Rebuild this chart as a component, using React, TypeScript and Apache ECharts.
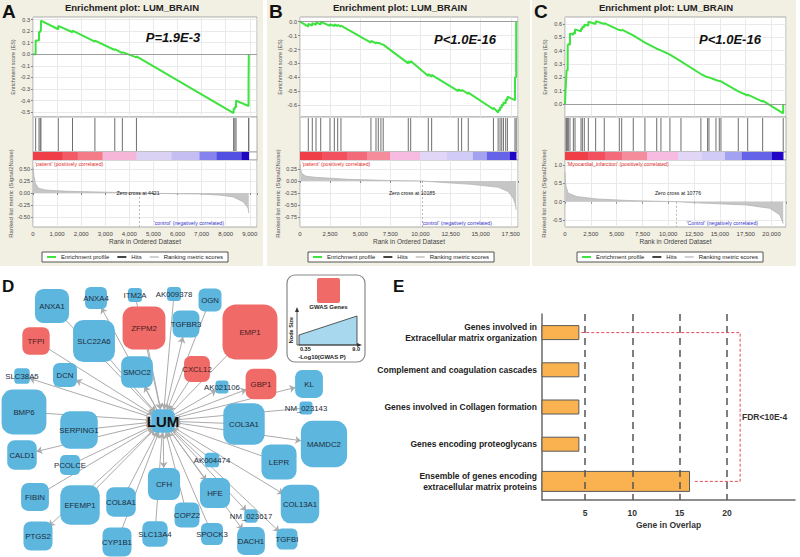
import React, { useEffect, useRef } from 'react';
import * as echarts from 'echarts';

const FONT = '"Liberation Sans", Arial, Helvetica, sans-serif';

// ---------------- Panel A (GSEA) ----------------
const esRankA = [0, 109, 110, 249, 250, 299, 300, 329, 330, 1049, 1050, 1639, 1640, 2569, 2570, 3394, 3395, 3709, 3710, 4294, 4295, 8329, 8330, 8379, 8380, 8429, 8430, 8949, 8950, 8959, 8960];
const esValueA = [0, 0, 0.12, 0.118, 0.195, 0.19, 0.205, 0.2, 0.29, 0.216, 0.245, 0.19, 0.205, 0.11, 0.118, 0.037, 0.045, 0.01, 0.018, -0.027, -0.018, -0.508, -0.468, -0.475, -0.452, -0.46, -0.4, -0.447, -0.23, -0.232, 0];
const hitsA = [110, 250, 300, 330, 1050, 1640, 2570, 3395, 3710, 4295, 8330, 8380, 8430, 8950, 8960];
const metricRankA = [0, 40, 100, 230, 500, 830, 1500, 2770, 4421, 6000, 6900, 7800, 8300, 8720, 8930, 8960];
const metricValueA = [0.55, 0.35, 0.2, 0.1, 0.065, 0.05, 0.035, 0.02, 0, -0.015, -0.02, -0.045, -0.08, -0.18, -0.31, -0.42];
const colorEdgesA = [0, 1230, 1855, 2890, 4300, 5750, 6910, 7620, 8660, 8960];
const colorBandsA = ['#f03e48', '#f25a66', '#f47c88', '#f6b6d8', '#dad2f4', '#c4bef2', '#8683ee', '#5250e2', '#1f06c0'];
const esTicksA = [-0.5, -0.4, -0.3, -0.2, -0.1, 0, 0.1, 0.2, 0.3];
const metricTicksA = [-0.5, -0.25, 0, 0.25, 0.5];
const zeroCrossA = 4421;
const pTextA = 'P=1.9E-3';
const posLabelA = "'patient' (positively correlated)";
const negLabelA = "'control' (negatively correlated)";

// ---------------- Panel B (GSEA) ----------------
const esRankB = [0, 689, 690, 1019, 1020, 1329, 1330, 1719, 1720, 2489, 2490, 2849, 2850, 3129, 3130, 3399, 3400, 5889, 5890, 6309, 6310, 6499, 6500, 6719, 6720, 6909, 6910, 8989, 8990, 9189, 9190, 10649, 10650, 10929, 10930, 13139, 13140, 13419, 13420, 13969, 13970, 16059, 16060, 16449, 16450, 16609, 16610, 16749, 16750, 16889, 16890, 17079, 17080, 17219, 17220, 17849, 17850, 17949, 17950];
const esValueB = [0, -0.035, -0.015, -0.028, -0.01, -0.022, -0.005, -0.02, 0, -0.03, -0.018, -0.032, -0.02, -0.031, -0.022, -0.035, -0.028, -0.15, -0.138, -0.155, -0.148, -0.156, -0.15, -0.16, -0.155, -0.165, -0.16, -0.3, -0.285, -0.295, -0.282, -0.39, -0.377, -0.395, -0.382, -0.5, -0.487, -0.5, -0.49, -0.52, -0.51, -0.63, -0.618, -0.655, -0.635, -0.64, -0.615, -0.62, -0.597, -0.603, -0.58, -0.588, -0.56, -0.565, -0.54, -0.565, -0.4, -0.402, 0];
const hitsB = [690, 1020, 1330, 1720, 2490, 2850, 3130, 3400, 5890, 6310, 6500, 6720, 6910, 8990, 9190, 10650, 10930, 13140, 13420, 13970, 16060, 16450, 16610, 16750, 16890, 17080, 17220, 17850, 17950];
const metricRankB = [0, 50, 140, 500, 1240, 4000, 7470, 10185, 10920, 14240, 16460, 17290, 17700, 17900, 17950];
const metricValueB = [0.35, 0.25, 0.16, 0.1, 0.077, 0.035, 0.01, 0, -0.014, -0.07, -0.13, -0.22, -0.36, -0.5, -0.6];
const colorEdgesB = [0, 1830, 3900, 5560, 7470, 9960, 12200, 14360, 15520, 17430, 17950];
const colorBandsB = ['#f03e48', '#f2505e', '#f36a7a', '#f58c9b', '#f7bae0', '#e2d6f6', '#d0ccf7', '#a3a2f1', '#6563e8', '#2106c6'];
const esTicksB = [-0.6, -0.5, -0.4, -0.3, -0.2, -0.1, 0];
const metricTicksB = [-0.75, -0.5, -0.25, 0, 0.25];
const zeroCrossB = 10185;
const pTextB = 'P<1.0E-16';
const posLabelB = "'patient' (positively correlated)";
const negLabelB = "'control' (negatively correlated)";

// ---------------- Panel C (GSEA) ----------------
const esRankC = [0, 100, 159, 160, 259, 260, 319, 320, 479, 480, 809, 810, 969, 970, 1549, 1550, 1679, 1680, 1869, 1870, 2259, 2260, 2969, 2970, 3799, 3800, 5259, 5260, 5489, 5490, 6609, 6610, 7739, 7740, 8879, 8880, 9289, 9290, 10159, 10160, 11229, 11230, 13159, 13160, 13809, 13810, 13939, 13940, 14619, 14620, 14939, 14940, 15099, 15100, 16779, 16780, 17689, 17690, 19139, 19140, 21129, 21130];
const esValueC = [0, 0.18, 0.178, 0.255, 0.252, 0.44, 0.438, 0.45, 0.445, 0.53, 0.52, 0.535, 0.53, 0.56, 0.545, 0.565, 0.562, 0.58, 0.577, 0.595, 0.59, 0.617, 0.6, 0.622, 0.6, 0.607, 0.555, 0.56, 0.552, 0.558, 0.515, 0.52, 0.46, 0.465, 0.415, 0.42, 0.403, 0.408, 0.37, 0.375, 0.32, 0.324, 0.225, 0.23, 0.2, 0.205, 0.2, 0.205, 0.18, 0.185, 0.172, 0.177, 0.17, 0.175, 0.095, 0.1, 0.064, 0.07, 0.018, 0.025, -0.07, 0];
const hitsC = [100, 160, 260, 320, 480, 810, 970, 1550, 1680, 1870, 2260, 2970, 3800, 5260, 5490, 6610, 7740, 8880, 9290, 10160, 11230, 13160, 13810, 13940, 14620, 14940, 15100, 16780, 17690, 19140, 21130];
const metricRankC = [0, 30, 100, 320, 1130, 3060, 6290, 10776, 12740, 17580, 19840, 20800, 21130];
const metricValueC = [0.8, 0.6, 0.41, 0.23, 0.14, 0.075, 0.03, 0, -0.03, -0.09, -0.18, -0.36, -0.6];
const colorEdgesC = [0, 2230, 3870, 5520, 7940, 10940, 13260, 15490, 17130, 20040, 21130];
const colorBandsC = ['#f03e48', '#f2505e', '#f36a7a', '#f58c9b', '#f7bae0', '#e2d6f6', '#d0ccf7', '#a3a2f1', '#6563e8', '#2106c6'];
const esTicksC = [0, 0.1, 0.2, 0.3, 0.4, 0.5, 0.6];
const metricTicksC = [-0.5, 0, 0.5, 1.0];
const zeroCrossC = 10776;
const pTextC = 'P<1.0E-16';
const posLabelC = "'Myocardial_infarction' (positively correlated)";
const negLabelC = "'Control' (negatively correlated)";

const panelTitle = 'Enrichment plot: LUM_BRAIN';
const legendNames = ['Enrichment profile', 'Hits', 'Ranking metric scores'];

// ---------------- Panel D (network) ----------------
const geneNames = ['LUM', 'ANXA1', 'ANXA4', 'ITM2A', 'AK009378', 'OGN', 'ZFPM2', 'TGFBR3', 'EMP1', 'TFPI', 'SLC22A6', 'SMOC2', 'CXCL12', 'GBP1', 'AK021106', 'SLC38A5', 'DCN', 'BMP6', 'SERPING1', 'COL3A1', 'KL', 'NM_023143', 'MAMDC2', 'CALD1', 'PCOLCE', 'AK004474', 'LEPR', 'CFH', 'FIBIN', 'EFEMP1', 'COL8A1', 'HFE', 'COPZ2', 'NM_023617', 'COL13A1', 'PTGS2', 'CYP1B1', 'SLC13A4', 'SPOCK3', 'DACH1', 'TGFBI'];
const gwasLog10P = [2.5, 4.7, 2.2, 0.56, 0.56, 2.4, 6.5, 3.2, 9.0, 3.3, 6.3, 4.2, 3.0, 4.0, 0.35, 0.87, 2.6, 6.9, 5.4, 6.2, 3.4, 0.35, 7.2, 3.75, 1.8, 0.66, 4.9, 4.3, 3.4, 5.8, 3.75, 3.85, 2.8, 0.45, 5.6, 3.65, 3.65, 2.9, 2.2, 3.4, 2.0];
const gwasGenes = ['ZFPM2', 'EMP1', 'TFPI', 'CXCL12', 'GBP1'];
const targetsOfLUM = ['ANXA4', 'TGFBR3', 'EMP1', 'GBP1', 'AK021106', 'SLC38A5', 'CALD1', 'PTGS2', 'MAMDC2', 'COL13A1', 'TGFBI', 'CFH', 'SMOC2', 'DACH1', 'KL', 'HFE', 'NM_023617', 'DCN'];
// network layout (node centres)
const layoutX = [163, 52, 96, 135, 174, 210, 144, 186, 250, 36, 94, 137, 197, 261, 222, 22, 65, 24, 79, 244, 309, 306, 324, 22, 70, 212, 279, 164, 35, 80, 121, 215, 187, 251, 300, 38, 117, 155, 212, 251, 287];
const layoutY = [421, 306, 298, 295, 294, 300, 328, 324, 332, 341, 341, 372, 369, 384, 387, 376, 375, 412, 430, 424, 384, 408, 444, 455, 465, 460, 462, 484, 497, 505, 502, 493, 515, 516, 504, 536, 542, 534, 534, 541, 539];
const sizeLegendRange = [0.35, 9.0];

// ---------------- Panel E (bars) ----------------
const pathwayNames = [
  'Genes involved in\nExtracellular matrix organization',
  'Complement and coagulation cascades',
  'Genes involved in Collagen formation',
  'Genes encoding proteoglycans',
  'Ensemble of genes encoding\nextracellular matrix proteins',
];
const geneOverlap = [4.4, 4.4, 4.4, 4.4, 16.1];
const overlapTicks = [5, 10, 15, 20];
const fdrBracketX = [4.6, 21.4, 21.4, 16.6];
const fdrText = 'FDR<10E-4';

function buildOption() {
  const panels = [
    { letter: 'A', esRank: esRankA, esValue: esValueA, hits: hitsA, mRank: metricRankA, mValue: metricValueA, edges: colorEdgesA, bands: colorBandsA, esTicks: esTicksA, mTicks: metricTicksA, zc: zeroCrossA, pText: pTextA, pos: posLabelA, neg: negLabelA,
      left: 33, width: 224, xMax: 9300, xInterval: 1000, esMin: -0.542, esMax: 0.322, mMin: -0.708, mMax: 0.6875, mDigits: 2, bgX: 0, bgW: 263, titleX: 132, pX: 173, pY: 37, zeroX: 138, negRight: 224, legendLeft: 42 },
    { letter: 'B', esRank: esRankB, esValue: esValueB, hits: hitsB, mRank: metricRankB, mValue: metricValueB, edges: colorEdgesB, bands: colorBandsB, esTicks: esTicksB, mTicks: metricTicksB, zc: zeroCrossB, pText: pTextB, pos: posLabelB, neg: negLabelB,
      left: 300, width: 218, xMax: 18100, xInterval: 2500, esMin: -0.686, esMax: 0.034, mMin: -0.958, mMax: 0.4375, mDigits: 2, bgX: 267, bgW: 263, titleX: 400, pX: 465, pY: 39, zeroX: 412, negRight: 492, legendLeft: 308 },
    { letter: 'C', esRank: esRankC, esValue: esValueC, hits: hitsC, mRank: metricRankC, mValue: metricValueC, edges: colorEdgesC, bands: colorBandsC, esTicks: esTicksC, mTicks: metricTicksC, zc: zeroCrossC, pText: pTextC, pos: posLabelC, neg: negLabelC,
      left: 565, width: 221, xMax: 21400, xInterval: 2500, esMin: -0.0975, esMax: 0.653, mMin: -0.691, mMax: 1.139, mDigits: 1, bgX: 532, bgW: 264, titleX: 666, pX: 730, pY: 39, zeroX: 678, negRight: 758, legendLeft: 577 },
  ];

  const grids: any[] = [];
  const xAxes: any[] = [];
  const yAxes: any[] = [];
  const series: any[] = [];
  const graphics: any[] = [];
  const legends: any[] = [];

  const gridLine = { show: true, lineStyle: { color: '#e4e4e4', width: 0.8 } };
  const tickLabel = { fontSize: 5.5, color: '#444', fontFamily: FONT };

  panels.forEach((p, k) => {
    const g0 = k * 4;
    const rows = [
      { top: 17, height: 100 },
      { top: 117, height: 35 },
      { top: 152, height: 8 },
      { top: 160, height: 67 },
    ];
    rows.forEach((r) => {
      grids.push({ left: p.left, width: p.width, top: r.top, height: r.height, show: true, backgroundColor: '#fff', borderColor: '#9a9a9a', borderWidth: 0.8, containLabel: false, outerBoundsMode: 'none' });
    });
    const fmtX = (v: number) => (v % p.xInterval === 0 && v <= p.xMax ? v.toLocaleString('en-US') : '');
    // ES
    xAxes.push({ gridIndex: g0, type: 'value', min: 0, max: p.xMax, interval: p.xInterval, axisLabel: { show: false }, axisTick: { show: false }, axisLine: { show: false }, splitLine: gridLine });
    yAxes.push({ gridIndex: g0, type: 'value', min: p.esMin, max: p.esMax, axisLine: { show: false },
      axisTick: { show: true, length: 2, lineStyle: { color: '#888' }, customValues: p.esTicks },
      axisLabel: { ...tickLabel, margin: 3, customValues: p.esTicks, formatter: (v: number) => v.toFixed(1) },
      splitLine: gridLine, name: 'Enrichment score (ES)', nameLocation: 'middle', nameGap: 17, nameTextStyle: { fontSize: 5.5, color: '#555', fontFamily: FONT } });
    // hits
    xAxes.push({ gridIndex: g0 + 1, type: 'value', min: 0, max: p.xMax, show: false });
    yAxes.push({ gridIndex: g0 + 1, type: 'value', min: 0, max: 1, show: false });
    // colour bar
    xAxes.push({ gridIndex: g0 + 2, type: 'value', min: 0, max: p.xMax, show: false });
    yAxes.push({ gridIndex: g0 + 2, type: 'value', min: 0, max: 1, show: false });
    // ranked metric
    xAxes.push({ gridIndex: g0 + 3, type: 'value', min: 0, max: p.xMax, interval: p.xInterval, axisLine: { show: false },
      axisTick: { show: true, length: 2, lineStyle: { color: '#888' } },
      axisLabel: { fontSize: 6, color: '#444', margin: 4, formatter: fmtX, fontFamily: FONT }, splitLine: gridLine,
      name: 'Rank in Ordered Dataset', nameLocation: 'middle', nameGap: 11, nameTextStyle: { fontSize: 6.5, color: '#444', fontFamily: FONT } });
    yAxes.push({ gridIndex: g0 + 3, type: 'value', min: p.mMin, max: p.mMax, axisLine: { show: false },
      axisTick: { show: true, length: 2, lineStyle: { color: '#888' }, customValues: p.mTicks },
      axisLabel: { ...tickLabel, margin: 3, customValues: p.mTicks, formatter: (v: number) => v.toFixed(p.mDigits) },
      splitLine: gridLine, name: 'Ranked list metric (Signal2Noise)', nameLocation: 'middle', nameGap: 18, nameTextStyle: { fontSize: 6, color: '#555', fontFamily: FONT } });

    series.push({
      type: 'line', name: 'Enrichment profile', xAxisIndex: g0, yAxisIndex: g0, color: '#3fe33f',
      data: p.esRank.map((r, i) => [r, p.esValue[i]]), showSymbol: false, lineStyle: { width: 2, color: '#3fe33f' }, z: 4,
      markLine: { silent: true, symbol: 'none', label: { show: false }, lineStyle: { color: '#8a8a8a', width: 0.8, type: 'solid' }, data: [{ yAxis: 0 }] },
    });
    series.push({
      type: 'custom', name: 'Hits', xAxisIndex: g0 + 1, yAxisIndex: g0 + 1, itemStyle: { color: '#444' },
      dimensions: ['rank'], encode: { x: 'rank' }, data: p.hits.map((h) => [h]),
      renderItem: (params: any, api: any) => {
        const x = api.coord([api.value(0), 0])[0];
        const cs = params.coordSys;
        return { type: 'line', shape: { x1: x, y1: cs.y + 1, x2: x, y2: cs.y + cs.height - 1 }, style: { stroke: '#6e6e6e', lineWidth: 1 } };
      },
    });
    const bands = p.bands;
    series.push({
      type: 'custom', xAxisIndex: g0 + 2, yAxisIndex: g0 + 2,
      dimensions: ['start', 'end'], encode: { x: ['start', 'end'] },
      data: p.edges.slice(0, -1).map((e, i) => [e, p.edges[i + 1]]),
      renderItem: (params: any, api: any) => {
        const x0 = api.coord([api.value(0), 0])[0];
        const x1 = api.coord([api.value(1), 0])[0];
        const cs = params.coordSys;
        return { type: 'rect', shape: { x: x0, y: cs.y, width: x1 - x0 + 0.3, height: cs.height }, style: { fill: bands[params.dataIndex] } };
      },
    });
    series.push({
      type: 'line', name: 'Ranking metric scores', xAxisIndex: g0 + 3, yAxisIndex: g0 + 3, color: '#d0d0d0',
      data: p.mRank.map((r, i) => [r, p.mValue[i]]), showSymbol: false,
      lineStyle: { width: 0.8, color: '#b5b5b5' }, areaStyle: { color: '#c6c6c6', opacity: 1 },
      markLine: { silent: true, symbol: 'none', label: { show: false }, lineStyle: { color: '#8c8c8c', width: 0.6, type: [2, 2] },
        data: [[{ coord: [p.zc, 0] }, { coord: [p.zc, p.mMin] }]] },
    });

    legends.push({ left: p.legendLeft, top: 252, orient: 'horizontal', data: legendNames, icon: 'rect', itemWidth: 9, itemHeight: 2, itemGap: 8,
      padding: [2, 5], borderColor: '#555', borderWidth: 1, backgroundColor: '#fff', selectedMode: false,
      textStyle: { fontSize: 6, color: '#222', fontFamily: FONT } });

    graphics.push({ type: 'rect', z: -10, silent: true, shape: { x: p.bgX, y: 0, width: p.bgW, height: 266 }, style: { fill: '#f2efe3' } });
    graphics.push({ type: 'text', z: 100, x: p.bgX + 2, y: 2, style: { text: p.letter, fontSize: 19, fontWeight: 'bold', fill: '#111', fontFamily: FONT } });
    graphics.push({ type: 'text', z: 100, x: p.titleX, y: 7.5, style: { text: panelTitle, fontSize: 9.5, fontWeight: 'bold', fill: '#222', fontFamily: FONT, align: 'center', verticalAlign: 'middle' } });
    graphics.push({ type: 'text', z: 100, x: p.pX, y: p.pY, style: { text: p.pText, fontSize: 13, fontWeight: 'bold', fontStyle: 'italic', fill: '#111', fontFamily: FONT, align: 'center', verticalAlign: 'middle' } });
    graphics.push({ type: 'text', z: 100, x: p.left + 2, y: 164, style: { text: p.pos, fontSize: 5.2, fill: '#e0302e', fontFamily: FONT, align: 'left', verticalAlign: 'middle' } });
    graphics.push({ type: 'text', z: 100, x: p.zeroX, y: 193, style: { text: 'Zero cross at ' + p.zc, fontSize: 5.2, fill: '#222', fontFamily: FONT, align: 'center', verticalAlign: 'middle' } });
    graphics.push({ type: 'text', z: 100, x: p.negRight, y: 222.5, style: { text: p.neg, fontSize: 5.2, fill: '#3434cc', fontFamily: FONT, align: 'right', verticalAlign: 'middle' } });
  });

  // ---------- Panel E ----------
  const gE = 12;
  grids.push({ left: 542, top: 314, width: 253, height: 186, show: false, containLabel: false, outerBoundsMode: 'none' });
  xAxes.push({ gridIndex: gE, type: 'value', min: 0.45, max: 27.2,
    axisLine: { show: true, lineStyle: { color: '#6a6a6a', width: 1.5 } }, axisTick: { show: false, customValues: overlapTicks }, splitLine: { show: false },
    axisLabel: { customValues: overlapTicks, fontSize: 8.5, fontWeight: 'bold', color: '#333', margin: 8, fontFamily: FONT },
    name: 'Gene in Overlap', nameLocation: 'middle', nameGap: 20, nameTextStyle: { fontSize: 8.5, fontWeight: 'bold', color: '#333', fontFamily: FONT } });
  yAxes.push({ gridIndex: gE, type: 'category', inverse: true, data: pathwayNames,
    axisLine: { show: true, lineStyle: { color: '#6a6a6a', width: 1.5 } }, axisTick: { show: false },
    axisLabel: { interval: 0, fontSize: 8.5, fontWeight: 'bold', color: '#222', lineHeight: 11.5, margin: 5, align: 'right', fontFamily: FONT } });
  yAxes.push({ gridIndex: gE, type: 'category', inverse: true, data: pathwayNames, show: false });
  const barStyle = { color: '#f9b24f', borderColor: '#5a5a5a', borderWidth: 1 };
  series.push({
    type: 'bar', xAxisIndex: gE, yAxisIndex: 12, barWidth: 15, itemStyle: barStyle, silent: true,
    data: geneOverlap.map((v, i) => (i < 4 ? v : '-')),
  });
  series.push({
    type: 'bar', xAxisIndex: gE, yAxisIndex: 13, barWidth: 21, itemStyle: barStyle, silent: true,
    data: geneOverlap.map((v, i) => (i === 4 ? v : '-')),
    markLine: { silent: true, symbol: 'none', label: { show: false }, lineStyle: { color: '#555', width: 1.5, type: [7, 5] },
      data: overlapTicks.map((v) => ({ xAxis: v })) },
  });
  // FDR bracket joining the first and last pathways
  const bracketCats = [pathwayNames[0], pathwayNames[0], pathwayNames[4], pathwayNames[4]];
  series.push({
    type: 'line', xAxisIndex: gE, yAxisIndex: 12, silent: true, showSymbol: false, symbol: 'none', z: 6,
    data: fdrBracketX.map((x, i) => [x, bracketCats[i]]),
    lineStyle: { color: '#e8485a', width: 1, type: [3, 2] },
  });
  graphics.push({ type: 'text', z: 100, x: 742, y: 417, style: { text: fdrText, fontSize: 8.5, fontWeight: 'bold', fill: '#333', fontFamily: FONT, align: 'left', verticalAlign: 'middle' } });
  graphics.push({ type: 'text', z: 100, x: 393, y: 278, style: { text: 'E', fontSize: 17, fontWeight: 'bold', fill: '#111', fontFamily: FONT } });

  // ---------- Panel D ----------
  const minX = Math.min(...layoutX), maxX = Math.max(...layoutX);
  const minY = Math.min(...layoutY), maxY = Math.max(...layoutY);
  const nodeSize = (v: number) => 13 + ((v - sizeLegendRange[0]) / (sizeLegendRange[1] - sizeLegendRange[0])) * 42;
  series.push({
    type: 'graph', layout: 'none', left: minX, top: minY, width: maxX - minX, height: maxY - minY, roam: false, silent: true, z: 3,
    symbol: 'roundRect',
    data: geneNames.map((n, i) => ({
      name: n, x: layoutX[i], y: layoutY[i], symbolSize: nodeSize(gwasLog10P[i]),
      itemStyle: { color: gwasGenes.includes(n) ? '#f06a68' : '#5cb6de' },
      label: n === 'LUM' ? { fontSize: 15, fontWeight: 'bold', color: '#111' } : gwasGenes.includes(n) ? { color: '#4a1c1c' } : undefined,
    })),
    edges: geneNames.slice(1).map((n) => (targetsOfLUM.includes(n) ? { source: 'LUM', target: n } : { source: n, target: 'LUM' })),
    edgeSymbol: ['none', 'arrow'], edgeSymbolSize: [0, 6],
    lineStyle: { color: '#ababab', width: 1, opacity: 1, curveness: 0 },
    label: { show: true, position: 'inside', fontSize: 7.8, color: '#1d2d3b', fontFamily: FONT },
    emphasis: { disabled: true },
  });
  graphics.push({ type: 'text', z: 100, x: 2, y: 278, style: { text: 'D', fontSize: 17, fontWeight: 'bold', fill: '#111', fontFamily: FONT } });

  // inset size legend
  graphics.push({ type: 'rect', z: 90, shape: { x: 287, y: 275, width: 78, height: 87, r: 8 }, style: { fill: '#fff', stroke: '#888', lineWidth: 1.2 } });
  graphics.push({ type: 'rect', z: 91, shape: { x: 317, y: 278, width: 23, height: 25, r: 2 }, style: { fill: '#f06a68' } });
  graphics.push({ type: 'text', z: 91, x: 328.5, y: 307, style: { text: 'GWAS Genes', fontSize: 6, fontWeight: 'bold', fill: '#222', fontFamily: FONT, align: 'center', verticalAlign: 'middle' } });
  graphics.push({ type: 'polygon', z: 91, shape: { points: [[299, 345], [299, 335], [357, 316], [357, 345]] }, style: { fill: '#a8d8ee', stroke: '#333', lineWidth: 0.8 } });
  graphics.push({ type: 'line', z: 92, shape: { x1: 297, y1: 345, x2: 297, y2: 310 }, style: { stroke: '#333', lineWidth: 0.8 } });
  graphics.push({ type: 'line', z: 92, shape: { x1: 297, y1: 345, x2: 359, y2: 345 }, style: { stroke: '#333', lineWidth: 0.8 } });
  graphics.push({ type: 'polygon', z: 92, shape: { points: [[295, 312], [299, 312], [297, 307]] }, style: { fill: '#333' } });
  graphics.push({ type: 'polygon', z: 92, shape: { points: [[357, 343], [357, 347], [362, 345]] }, style: { fill: '#333' } });
  graphics.push({ type: 'text', z: 92, x: 291, y: 330, rotation: Math.PI / 2, style: { text: 'Node Size', fontSize: 5.5, fontWeight: 'bold', fill: '#222', fontFamily: FONT, align: 'center', verticalAlign: 'middle' } });
  graphics.push({ type: 'text', z: 92, x: 300, y: 348.5, style: { text: String(sizeLegendRange[0]), fontSize: 5.5, fontWeight: 'bold', fill: '#222', fontFamily: FONT, align: 'left', verticalAlign: 'middle' } });
  graphics.push({ type: 'text', z: 92, x: 360, y: 348.5, style: { text: sizeLegendRange[1].toFixed(1), fontSize: 5.5, fontWeight: 'bold', fill: '#222', fontFamily: FONT, align: 'right', verticalAlign: 'middle' } });
  graphics.push({ type: 'text', z: 92, x: 322, y: 356.5, style: { text: '-Log10(GWAS P)', fontSize: 6, fontWeight: 'bold', fill: '#222', fontFamily: FONT, align: 'center', verticalAlign: 'middle' } });

  return {
    animation: false,
    backgroundColor: '#fff',
    textStyle: { fontFamily: FONT },
    grid: grids,
    xAxis: xAxes,
    yAxis: yAxes,
    legend: legends,
    series,
    graphic: { elements: graphics },
  };
}

export default function App() {
  const ref = useRef<HTMLDivElement>(null);
  useEffect(() => {
    if (!ref.current) return;
    const chart = echarts.init(ref.current, null, { renderer: 'svg' });
    chart.setOption(buildOption() as any);
    return () => chart.dispose();
  }, []);
  return <div ref={ref} style={{ position: 'absolute', left: 0, top: 0, width: 800, height: 557 }} />;
}
